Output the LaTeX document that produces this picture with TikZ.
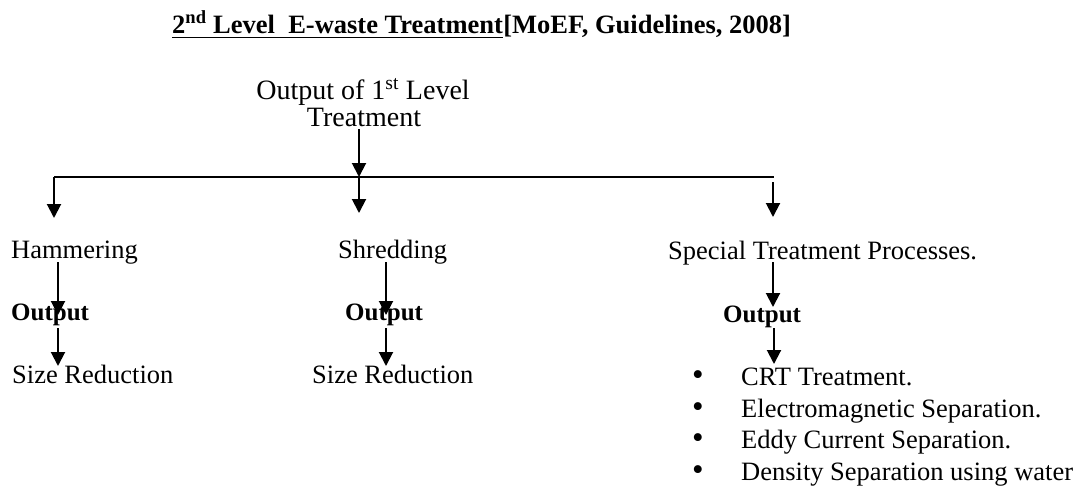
\documentclass[tikz,border=0pt]{standalone}
\usepackage{fontspec}
\setmainfont{Liberation Serif}
\usetikzlibrary{arrows.meta}
\begin{document}
\begin{tikzpicture}[x=1pt,y=1pt,
  lbl/.style={inner sep=0pt,anchor=base west,font=\fontsize{26.5}{30}\selectfont},
  boldlbl/.style={inner sep=0pt,anchor=base west,font=\fontsize{25}{30}\selectfont\bfseries},
  toplbl/.style={inner sep=0pt,anchor=base,font=\fontsize{28}{30}\selectfont},
  titlelbl/.style={inner sep=0pt,anchor=base west,font=\fontsize{26.5}{30}\selectfont\bfseries},
  arr/.style={line width=2pt,-{Triangle[width=14pt,length=14pt]}},
  bus/.style={line width=1.3pt}]
\useasboundingbox (0,0) rectangle (1076,-485);
% title
\node[titlelbl] (t1) at (172,-33) {2\textsuperscript{nd} Level\ \ E-waste Treatment};
\node[titlelbl] (t2) at (t1.base east) {[MoEF, Guidelines, 2008]};
\draw[line width=1.8pt] ([yshift=-4.5pt]t1.base west) -- ([yshift=-4.5pt]t1.base east);
% top
\node[toplbl] (top1) at (363,-99) {Output of 1\textsuperscript{st} Level};
\node[toplbl] (top2) at (364,-126) {Treatment};
% junctions
\coordinate (jL) at (54,-177);
\coordinate (jM) at (359,-177);
\coordinate (jR) at (774,-177);
\coordinate (aL) at (54,-218);
\coordinate (aM) at (359,-213);
\coordinate (aR) at (773,-217);
\draw[arr] ([xshift=-5pt,yshift=-3pt]top2.base) -- (jM);
\draw[bus] (jL) -- (jR);
\draw[arr] (jL) -- (aL);
\draw[arr] (jM) -- (aM);
\draw[arr] ([xshift=-1pt,yshift=-5pt]jR) -- (aR);
% level 2
\node[lbl] (ham) at (11,-258) {Hammering};
\node[lbl] (shr) at (338,-258) {Shredding};
\node[lbl] (spe) at (668,-259) {Special Treatment Processes.};
\node[boldlbl] (o1) at (11,-320) {Output};
\node[boldlbl] (o2) at (345,-320) {Output};
\node[boldlbl] (o3) at (723,-322) {Output};
\node[lbl] (s1) at (12,-383) {Size Reduction};
\node[lbl] (s2) at (312,-383) {Size Reduction};
\draw[arr] ([shift={(47,-4)}]ham.base west) -- ([shift={(47,5)}]o1.base west);
\draw[arr] ([shift={(47,-8)}]o1.base west) -- ([shift={(46,17)}]s1.base west);
\draw[arr] ([shift={(48,-4)}]shr.base west) -- ([shift={(41,5)}]o2.base west);
\draw[arr] ([shift={(41,-8)}]o2.base west) -- ([shift={(74,17)}]s2.base west);
% special list
\node[lbl] (c1) at (692,-385) {\makebox[49pt][l]{\fontsize{33}{30}\selectfont\textbullet}CRT Treatment.};
\node[lbl] (c2) at (692,-417) {\makebox[49pt][l]{\fontsize{33}{30}\selectfont\textbullet}Electromagnetic Separation.};
\node[lbl] (c3) at (692,-448) {\makebox[49pt][l]{\fontsize{33}{30}\selectfont\textbullet}Eddy Current Separation.};
\node[lbl] (c4) at (692,-480) {\makebox[49pt][l]{\fontsize{33}{30}\selectfont\textbullet}Density Separation using water};
\draw[arr] ([shift={(105,-3)}]spe.base west) -- ([shift={(50,15)}]o3.base west);
\draw[arr] ([shift={(51,-6)}]o3.base west) -- ([shift={(82,21)}]c1.base west);
\end{tikzpicture}
\end{document}
